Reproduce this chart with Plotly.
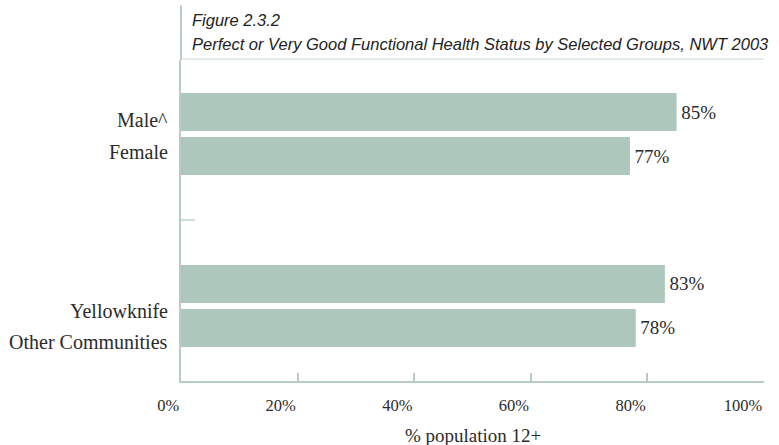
import plotly.graph_objects as go

# Survey results: share of population aged 12+ reporting perfect or very good functional health
categories = ["Male^", "Female", "Yellowknife", "Other Communities"]
values = [85, 77, 83, 78]
value_labels = ["85%", "77%", "83%", "78%"]
tick_values = [0, 20, 40, 60, 80, 100]
tick_labels = ["0%", "20%", "40%", "60%", "80%", "100%"]

# Row layout: two groups of two bars with a gap between the groups
row_pos = [0, 1, 3.909, 4.909]
label_pos = [0.18, 0.909, 4.52, 5.23]
group_split = (row_pos[1] + row_pos[2]) / 2

bar_color = "#adc7bc"
axis_color = "#b7ccc4"
text_color = "#2b2b2b"
serif = "Liberation Serif, Times New Roman, serif"
title_font = "Liberation Sans, Arial, sans-serif"

fig = go.Figure()
fig.add_trace(go.Bar(
    x=values,
    y=row_pos,
    orientation="h",
    width=0.864,
    marker=dict(color=bar_color, line=dict(width=0)),
    text=value_labels,
    texttemplate="\u200a%{text}",
    textposition="outside",
    textfont=dict(family=serif, size=19, color=text_color),
    cliponaxis=False,
    hoverinfo="skip",
))

annotations = []
for name, yp in zip(categories, label_pos):
    annotations.append(dict(
        x=0, xref="paper", y=yp, yref="y", text=name, showarrow=False,
        xanchor="right", yanchor="middle", xshift=-11,
        font=dict(family=serif, size=20, color=text_color),
    ))

annotations.append(dict(
    x=0, xref="paper", y=1, yref="paper", yshift=40, text="<i>Figure 2.3.2</i>",
    showarrow=False, xanchor="left", yanchor="middle", xshift=9,
    font=dict(family=title_font, size=16.5, color="#222222"),
))
annotations.append(dict(
    x=0, xref="paper", y=1, yref="paper", yshift=16,
    text="<i>Perfect or Very Good Functional Health Status by Selected Groups, NWT 2003</i>",
    showarrow=False, xanchor="left", yanchor="middle", xshift=9,
    font=dict(family=title_font, size=16.5, color="#222222"),
))
# x-axis title
annotations.append(dict(
    x=0.5, xref="paper", y=0, yref="paper", yshift=-54, text="% population 12+",
    showarrow=False, xanchor="center", yanchor="middle",
    font=dict(family=serif, size=19, color=text_color),
))

shapes = [
    # vertical rule beside the heading
    dict(type="line", xref="paper", yref="paper", x0=0, x1=0, y0=1, y1=1.17,
         line=dict(color=axis_color, width=2)),
    # rule under the heading
    dict(type="line", xref="paper", yref="paper", x0=0, x1=1, y0=1.003, y1=1.003,
         line=dict(color="#c4d8d0", width=1)),
]

fig.update_layout(
    width=779, height=445,
    margin=dict(l=181, r=15, t=60, b=64),
    paper_bgcolor="white", plot_bgcolor="white",
    showlegend=False,
    annotations=annotations,
    shapes=shapes,
    xaxis=dict(
        range=[0, 100], tickvals=tick_values, ticktext=tick_labels,
        ticks="inside", ticklen=8, tickwidth=1.5, tickcolor=axis_color,
        showline=True, linecolor=axis_color, linewidth=2,
        showgrid=False, zeroline=False,
        ticklabelposition="outside left",
        ticklabelstandoff=8,
        automargin=False,
        tickfont=dict(family=serif, size=16.5, color=text_color),
        fixedrange=True,
    ),
    yaxis=dict(
        range=[6.114, -1.182], tickvals=[group_split], ticktext=[""],
        ticks="inside", ticklen=14, tickwidth=1.5, tickcolor="#cfdfd9",
        showline=True, linecolor=axis_color, linewidth=2,
        showgrid=False, zeroline=False, fixedrange=True,
        automargin=False,
    ),
)

fig.write_html("out.html")
